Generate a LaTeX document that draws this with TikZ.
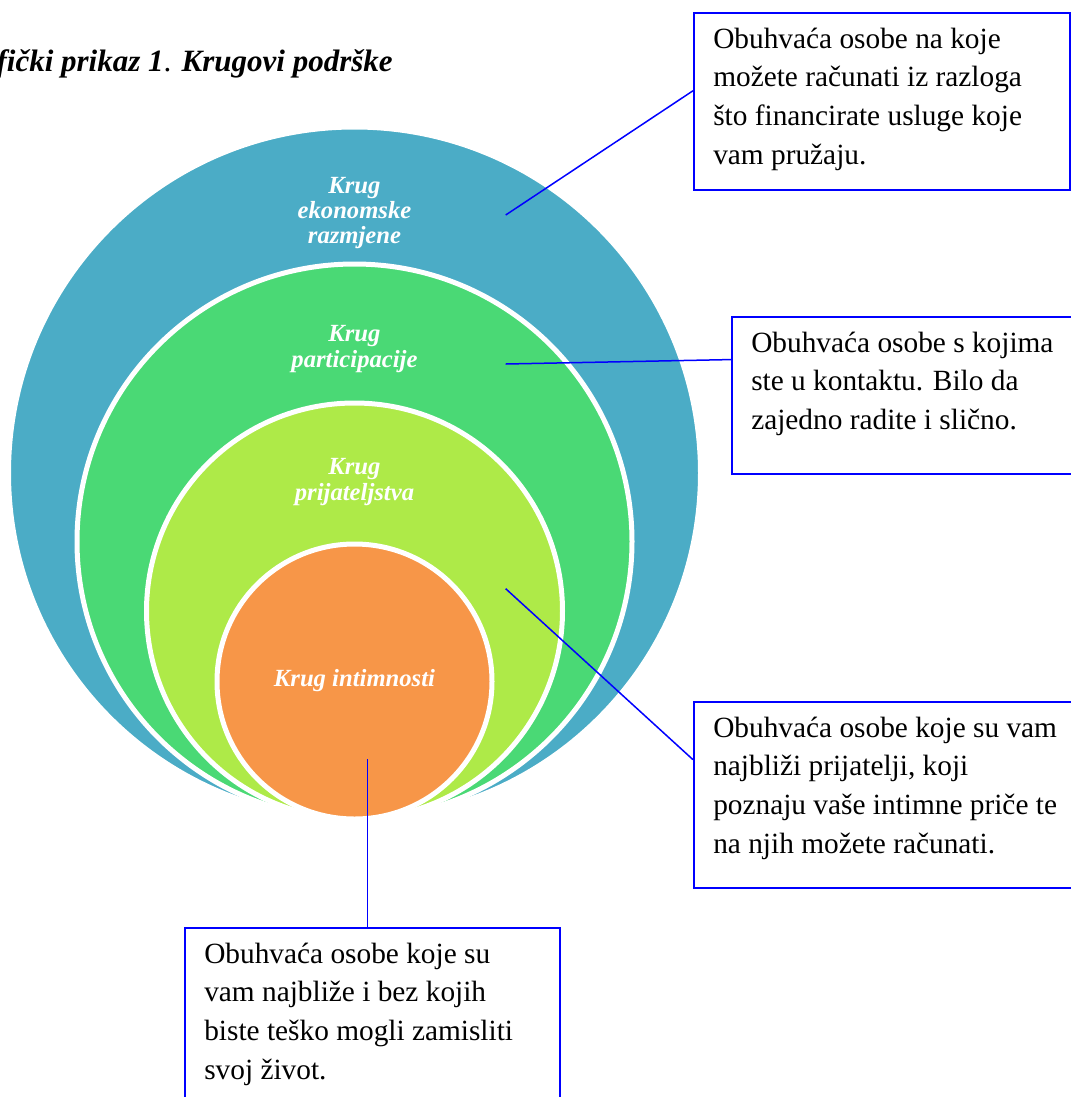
\documentclass[tikz,border=0pt]{standalone}
\usepackage{fontspec}
\setmainfont{Liberation Serif}
\usetikzlibrary{calc}
\definecolor{ekoblue}{RGB}{75,172,198}
\definecolor{partgreen}{RGB}{74,217,117}
\definecolor{prijlime}{RGB}{174,234,72}
\definecolor{intorange}{RGB}{247,150,72}
\def\pxu{0.75pt}
\begin{document}
\begin{tikzpicture}[x=\pxu,y=-\pxu,
    ring/.style={draw=white,line width=5*\pxu},
    krug/.style={text=white,align=center,font=\fontsize{18.5}{19}\selectfont\bfseries\itshape},
    okvir/.style={draw=blue,line width=2*\pxu,anchor=north west,inner sep=0pt},
    opis/.style={anchor=north west,inner sep=0pt,align=left,font=\fontsize{22}{29}\selectfont},
    veza/.style={draw=blue,line width=1.5*\pxu}]
    \def\cx{354.5} \def\dno{819}
    \useasboundingbox (0,0) rectangle (1071,1097);
    \clip (0,0) rectangle (1071,1097);
    \node [anchor=base east,inner sep=0pt,font=\fontsize{23.25}{28}\selectfont\bfseries\itshape] (naslov) at (393,71.7)
        {Grafički prikaz 1{\normalfont .} Krugovi podrške};
    % krugovi, svi dodiruju dno
    \path [fill=ekoblue,ring] (\cx,\dno-346) circle [radius=346];
    \path [fill=partgreen,ring] (\cx,\dno-277.5) circle [radius=277.5];
    \path [fill=prijlime,ring] (\cx,\dno-208) circle [radius=208];
    \path [fill=intorange,ring] (\cx,\dno-137.5) circle [radius=137.5];
    \node [krug] (ekon) at (\cx,213) {Krug\\ekonomske\\razmjene};
    \node [krug] (part) at (\cx,349) {Krug\\participacije};
    \node [krug] (prij) at (\cx,482) {Krug\\prijateljstva};
    \node [krug] (intim) at (\cx,681) {Krug intimnosti};
    \coordinate (a1) at (505.7,215);
    \coordinate (a2) at (505.7,364);
    \coordinate (a3) at (505.7,588.7);
    \coordinate (a4) at (367.7,759);
    % okviri s opisima
    \node [okvir,minimum width=376*\pxu,minimum height=177*\pxu] (okvir1) at (693,12) {};
    \node [okvir,minimum width=400*\pxu,minimum height=157*\pxu] (okvir2) at (731,316) {};
    \node [okvir,minimum width=420*\pxu,minimum height=186*\pxu] (okvir3) at (693,701) {};
    \node [okvir,minimum width=375*\pxu,minimum height=220*\pxu] (okvir4) at (184,927) {};
    \node [opis] (opis1) at ([shift={(20,15.5)}]okvir1.north west)
        {Obuhvaća osobe na koje\\možete računati iz razloga\\što financirate usluge koje\\vam pružaju.};
    \node [opis] (opis2) at ([shift={(20,15.5)}]okvir2.north west)
        {Obuhvaća osobe s kojima\\ste u kontaktu. Bilo da\\zajedno radite i slično.};
    \node [opis] (opis3) at ([shift={(20,15.5)}]okvir3.north west)
        {Obuhvaća osobe koje su vam\\najbliži prijatelji, koji\\poznaju vaše intimne priče te\\na njih možete računati.};
    \node [opis] (opis4) at ([shift={(20,15.5)}]okvir4.north west)
        {Obuhvaća osobe koje su\\vam najbliže i bez kojih\\biste teško mogli zamisliti\\svoj život.};
    \draw [veza] (a1) -- ($(okvir1.north west)!0.44!(okvir1.south west)$);
    \draw [veza] (a2) -- ($(okvir2.north west)!0.274!(okvir2.south west)$);
    \draw [veza] (a3) -- ($(okvir3.north west)!0.312!(okvir3.south west)$);
    \draw [veza] (a4) -- (a4 |- okvir4.north);
\end{tikzpicture}
\end{document}
